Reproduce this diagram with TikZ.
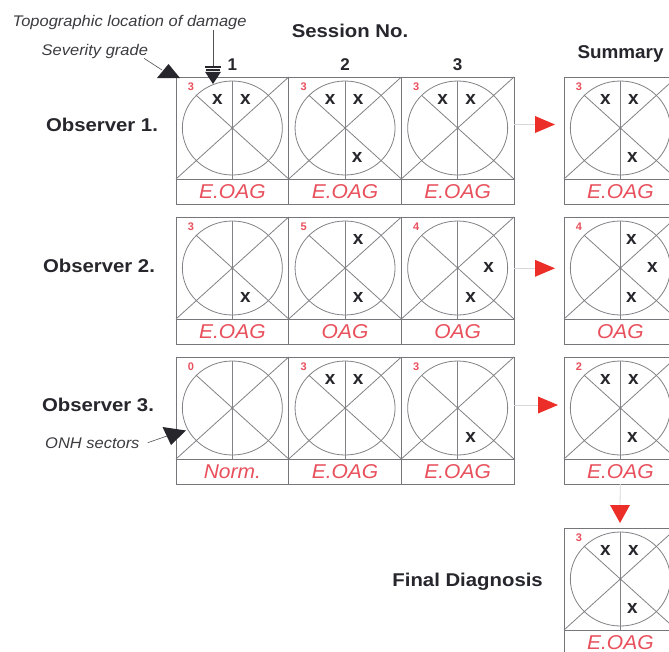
\documentclass[tikz,border=0pt]{standalone}
\usepackage{fontspec}
\setmainfont{Liberation Sans}
\usepackage{graphicx}
\usetikzlibrary{calc}

\definecolor{boxgray}{RGB}{118,118,122}
\definecolor{sectgray}{RGB}{130,130,134}
\definecolor{faintgray}{RGB}{215,215,218}
\definecolor{dxred}{RGB}{232,80,92}
\definecolor{tipred}{RGB}{236,46,40}
\definecolor{inkdark}{RGB}{38,38,44}

% horizontal stretch for the wide lettering
\newcommand\wider[2]{\scalebox{#1}[1]{#2}}

\tikzset{
  cellbox/.style={draw=boxgray, line width=0.9pt, minimum width=112.7pt,
    minimum height=102pt, inner sep=0pt, outer sep=0pt, anchor=north west},
  dxbox/.style={draw=boxgray, line width=0.9pt, minimum width=112.7pt,
    minimum height=25pt, inner sep=0pt, outer sep=0pt, anchor=north,
    font=\fontsize{20}{20}\selectfont\itshape, text=dxred},
  sectline/.style={draw=sectgray, line width=0.8pt},
  xmark/.style={font=\fontsize{19}{19}\selectfont\bfseries, text=inkdark, inner sep=0pt},
  grade/.style={font=\fontsize{11}{11}\selectfont\bfseries, text=dxred, inner sep=0pt},
  heading/.style={font=\fontsize{18.5}{18.5}\selectfont\bfseries, text=inkdark, inner sep=0pt},
  numlabel/.style={font=\fontsize{17}{17}\selectfont\bfseries, text=inkdark, inner sep=0pt},
  note/.style={font=\fontsize{15.4}{15.4}\selectfont\itshape, text=inkdark!90, inner sep=0pt},
  pointer/.style={draw=inkdark!80, line width=0.6pt},
  faint/.style={draw=faintgray, line width=0.8pt},
}

% one optic-nerve-head chart: name, x, y (top left), grade, diagnosis
\newcommand\onhcell[5]{%
  \node[cellbox] (#1) at (#2,#3) {};
  \node[dxbox] (#1d) at (#1.south) {\wider{1.05}{#5}};
  \draw[sectline] (#1.center) ellipse [x radius=50, y radius=47];
  \draw[sectline] (#1.south west) -- (#1.north east);
  \draw[sectline] ($(#1.center)+(-36,-32.6)$) -- (#1.south east);
  \draw[sectline] ($(#1.center)+(0,-47)$) -- (#1.south);
  \node[grade] (#1g) at ($(#1.north west)+(15,10)$) {#4};
}
% damaged sectors, given as offsets from the chart centre
\newcommand\damage[2]{%
  \foreach \dx/\dy [count=\k] in {#2} {\node[xmark] (#1x\k) at ($(#1.center)+(\dx,\dy)$) {x};}
}

\begin{document}
\begin{tikzpicture}[x=1pt, y=-1pt]
\useasboundingbox (0,0) rectangle (669,651);
\fill[white] (0,0) rectangle (669,651);
\clip (0,0) rectangle (669,651);

% headings
\node[heading, anchor=base] (session) at (350,37.7) {\wider{1.1}{Session No.}};
\node[heading, anchor=base] (summary) at (620.5,58.3) {\wider{1.02}{Summary}};
\node[numlabel, anchor=base] (n1) at (232.3,70) {1};
\node[numlabel, anchor=base] (n2) at (345,70) {2};
\node[numlabel, anchor=base] (n3) at (457.7,70) {3};

\node[heading, anchor=base] (obs1) at (102,131) {\wider{1.1}{Observer 1.}};
\node[heading, anchor=base] (obs2) at (99,272.5) {\wider{1.1}{Observer 2.}};
\node[heading, anchor=base] (obs3) at (98,411) {\wider{1.1}{Observer 3.}};
\node[heading, anchor=base east] (final) at (543,586) {\wider{1.1}{Final Diagnosis}};

% observer 1
\onhcell{c11}{176}{77}{3}{E.OAG}
\damage{c11}{-15/-29, 13/-29}
\onhcell{c12}{288.7}{77}{3}{E.OAG}
\damage{c12}{-15/-29, 13/-29, 12/29}
\onhcell{c13}{401.3}{77}{3}{E.OAG}
\damage{c13}{-15/-29, 13/-29}
\onhcell{s1}{564}{77}{3}{E.OAG}
\damage{s1}{-15/-29, 13/-29, 12/29}

% observer 2
\onhcell{c21}{176}{217}{3}{E.OAG}
\damage{c21}{13/29}
\onhcell{c22}{288.7}{217}{5}{OAG}
\damage{c22}{13/-29, 13/29}
\onhcell{c23}{401.3}{217}{4}{OAG}
\damage{c23}{31/-1, 13/29}
\onhcell{s2}{564}{217}{4}{OAG}
\damage{s2}{11/-29, 32/-1, 11/29}

% observer 3
\onhcell{c31}{176}{357}{0}{Norm.}
\onhcell{c32}{288.7}{357}{3}{E.OAG}
\damage{c32}{-15/-29, 13/-29}
\onhcell{c33}{401.3}{357}{3}{E.OAG}
\damage{c33}{13/29}
\onhcell{s3}{564}{357}{2}{E.OAG}
\damage{s3}{-15/-29, 13/-29, 12/29}

% final diagnosis
\onhcell{fin}{564}{528}{3}{E.OAG}
\damage{fin}{-15/-29, 13/-29, 12/29}

% arrows into the summary column
\coordinate (t1) at (535,124.5);
\coordinate (t2) at (535,268.3);
\coordinate (t3) at (538,405);
\coordinate (tf) at (620,505);
\draw[faint] (c13.east |- t1) -- (t1);
\draw[faint] (c23.east |- t2) -- (t2);
\draw[faint] (c33.east |- t3) -- (t3);
\draw[faint] (s3d.south) -- (tf);
\fill[tipred] ($(t1)+(0,-8.5)$) -- ($(t1)+(20,0)$) -- ($(t1)+(0,8.5)$) -- cycle;
\fill[tipred] ($(t2)+(0,-8.5)$) -- ($(t2)+(20,0)$) -- ($(t2)+(0,8.5)$) -- cycle;
\fill[tipred] ($(t3)+(0,-8.5)$) -- ($(t3)+(20,0)$) -- ($(t3)+(0,8.5)$) -- cycle;
\fill[tipred] ($(tf)+(-10,0)$) -- ($(tf)+(10,0)$) -- ($(tf)+(0,18)$) -- cycle;

% explanatory notes
\node[note, anchor=base west] (topo) at (12.5,26.5) {\wider{1.07}{Topographic location of damage}};
\node[note, anchor=base west] (sev) at (41.5,55) {\wider{1.07}{Severity grade}};
\node[note, anchor=base west] (onh) at (45,448) {\wider{1.07}{ONH sectors}};

\coordinate (topotip) at (213,66.3);
\coordinate (sevtip) at (162,70);
\coordinate (onhtip) at (167,436);
\draw[pointer] (topo.south -| topotip) -- (topotip);
\fill[inkdark] (205,66.3) rectangle (221,68.3);
\fill[inkdark] (206,69.3) rectangle (220,70.8);
\fill[inkdark] (205,71.8) -- (221,71.8) -- (213,84) -- cycle;
\draw[pointer] ($(sev.south east)+(-4,0)$) -- (sevtip);
\fill[inkdark] (157,78) -- (180,78) -- (168.5,64) -- cycle;
\draw[pointer] ($(onh.east)+(8,0)$) -- (onhtip);
\fill[inkdark] (162.5,427) -- (186,430.5) -- (171,445) -- cycle;
\end{tikzpicture}
\end{document}
